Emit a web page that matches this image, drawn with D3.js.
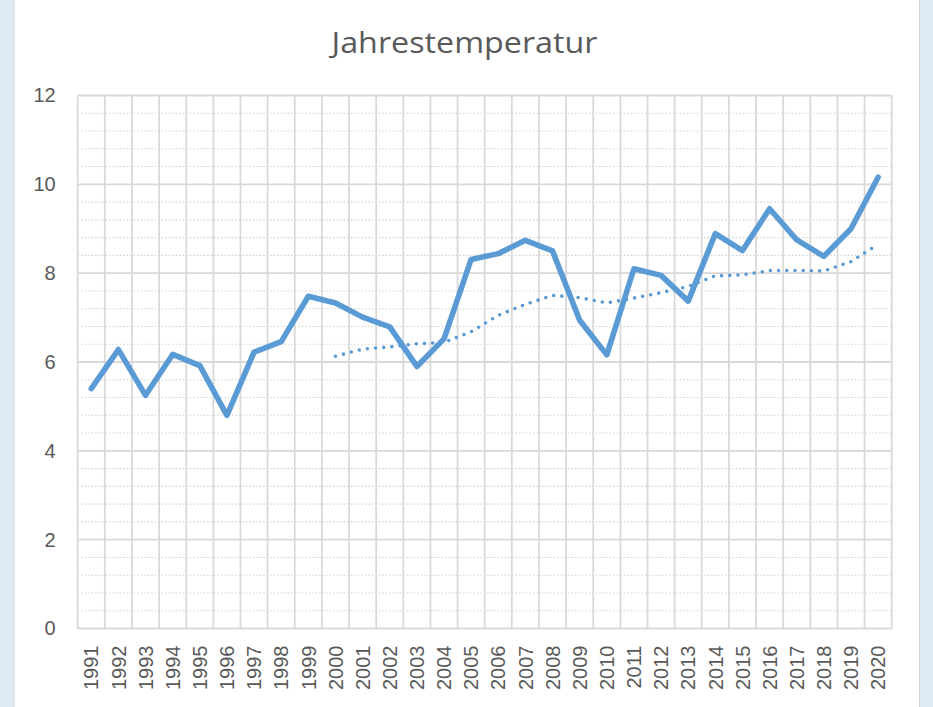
<!DOCTYPE html>
<html>
<head>
<meta charset="utf-8">
<script src="https://cdn.jsdelivr.net/npm/d3@7"></script>
<style>
  html, body { margin: 0; padding: 0; background: #dde9f5; }
  svg { display: block; }
</style>
</head>
<body>
<svg id="chart" width="933" height="707"></svg>
<script>
const years = ["1991","1992","1993","1994","1995","1996","1997","1998","1999","2000",
               "2001","2002","2003","2004","2005","2006","2007","2008","2009","2010",
               "2011","2012","2013","2014","2015","2016","2017","2018","2019","2020"];
const temperature = [5.40, 6.28, 5.25, 6.17, 5.92, 4.80, 6.22, 6.46, 7.48, 7.33,
                     7.01, 6.79, 5.90, 6.52, 8.31, 8.44, 8.74, 8.50, 6.94, 6.16,
                     8.10, 7.95, 7.37, 8.89, 8.51, 9.45, 8.75, 8.38, 9.00, 10.16];
const trendYears = ["2000","2001","2002","2003","2004","2005","2006","2007","2008","2009","2010",
                    "2011","2012","2013","2014","2015","2016","2017","2018","2019","2020"];
const trendValues = [6.13, 6.29, 6.34, 6.41, 6.44, 6.68, 7.05, 7.30, 7.50, 7.45, 7.33,
                     7.44, 7.56, 7.70, 7.94, 7.96, 8.06, 8.06, 8.05, 8.26, 8.65];
const yTicks = [0, 2, 4, 6, 8, 10, 12];
const yMinorTicks = [0.4, 0.8, 1.2, 1.6, 2.4, 2.8, 3.2, 3.6, 4.4, 4.8, 5.2, 5.6,
                     6.4, 6.8, 7.2, 7.6, 8.4, 8.8, 9.2, 9.6, 10.4, 10.8, 11.2, 11.6];
const title = "Jahrestemperatur";

(function () {
const svg = d3.select("#chart");
const W = 933, H = 707;

// white panel
svg.append("rect").attr("x", 14).attr("y", -2).attr("width", 905.5).attr("height", H + 4)
  .attr("fill", "#ffffff").attr("stroke", "#d4d4d4").attr("stroke-width", 1);

const pLeft = 77.7, pRight = 891.7, pTop = 95.5, pBottom = 628.5;
const x = d3.scaleBand().domain(years).range([pLeft, pRight]).padding(0);
const y = d3.scaleLinear().domain([0, 12]).range([pBottom, pTop]);
const cx = d => x(d) + x.bandwidth() / 2;

const grid = svg.append("g");
// minor horizontal dotted
grid.selectAll("line.minor").data(yMinorTicks).join("line").attr("class", "minor")
  .attr("x1", pLeft).attr("x2", pRight)
  .attr("y1", d => y(d)).attr("y2", d => y(d))
  .attr("stroke", "#d0d0d0").attr("stroke-width", 1.1).attr("stroke-dasharray", "1.5 2");
// major horizontal
grid.selectAll("line.major").data(yTicks).join("line").attr("class", "major")
  .attr("x1", pLeft).attr("x2", pRight)
  .attr("y1", d => y(d)).attr("y2", d => y(d))
  .attr("stroke", "#d9d9d9").attr("stroke-width", 1.8);
// vertical at category boundaries
const bounds = years.map(d => x(d)).concat([pRight]);
grid.selectAll("line.v").data(bounds).join("line").attr("class", "v")
  .attr("x1", d => d).attr("x2", d => d)
  .attr("y1", pTop).attr("y2", pBottom)
  .attr("stroke", "#d9d9d9").attr("stroke-width", 1.8);

// Y axis
const yAxis = svg.append("g").attr("transform", `translate(${pLeft - 22},0)`)
  .call(d3.axisLeft(y).tickValues(yTicks).tickSize(0).tickPadding(0).tickFormat(d3.format("d")));
yAxis.select(".domain").remove();
yAxis.selectAll("text").attr("font-family", "Liberation Sans, Arial, sans-serif")
  .attr("font-size", 20).attr("fill", "#595959");

// X axis
const xAxis = svg.append("g").attr("transform", `translate(0,${pBottom})`)
  .call(d3.axisBottom(x).tickSize(0).tickPadding(0));
xAxis.select(".domain").remove();
xAxis.selectAll("text")
  .attr("font-family", "Liberation Sans, Arial, sans-serif").attr("font-size", 20).attr("fill", "#595959")
  .attr("transform", "rotate(-90)")
  .attr("text-anchor", "end")
  .attr("x", -17).attr("y", 0).attr("dy", "0.36em");

// trend line (dotted)
const trendLine = d3.line().x((d, i) => cx(trendYears[i])).y(d => y(d));
svg.append("path").datum(trendValues).attr("d", trendLine)
  .attr("fill", "none").attr("stroke", "#5b9bd5").attr("stroke-width", 3.6)
  .attr("stroke-linecap", "round").attr("stroke-dasharray", "0 8.2");

// main line
const line = d3.line().x((d, i) => cx(years[i])).y(d => y(d));
svg.append("path").datum(temperature).attr("d", line)
  .attr("fill", "none").attr("stroke", "#5b9bd5").attr("stroke-width", 5.6)
  .attr("stroke-linejoin", "round").attr("stroke-linecap", "round");

// title
svg.append("text").attr("x", 464.5).attr("y", 53)
  .attr("text-anchor", "middle")
  .attr("font-family", "Open Sans, sans-serif").attr("font-size", 29)
  .attr("textLength", 266).attr("lengthAdjust", "spacingAndGlyphs")
  .attr("fill", "#595959").text(title);
})();
</script>
</body>
</html>
